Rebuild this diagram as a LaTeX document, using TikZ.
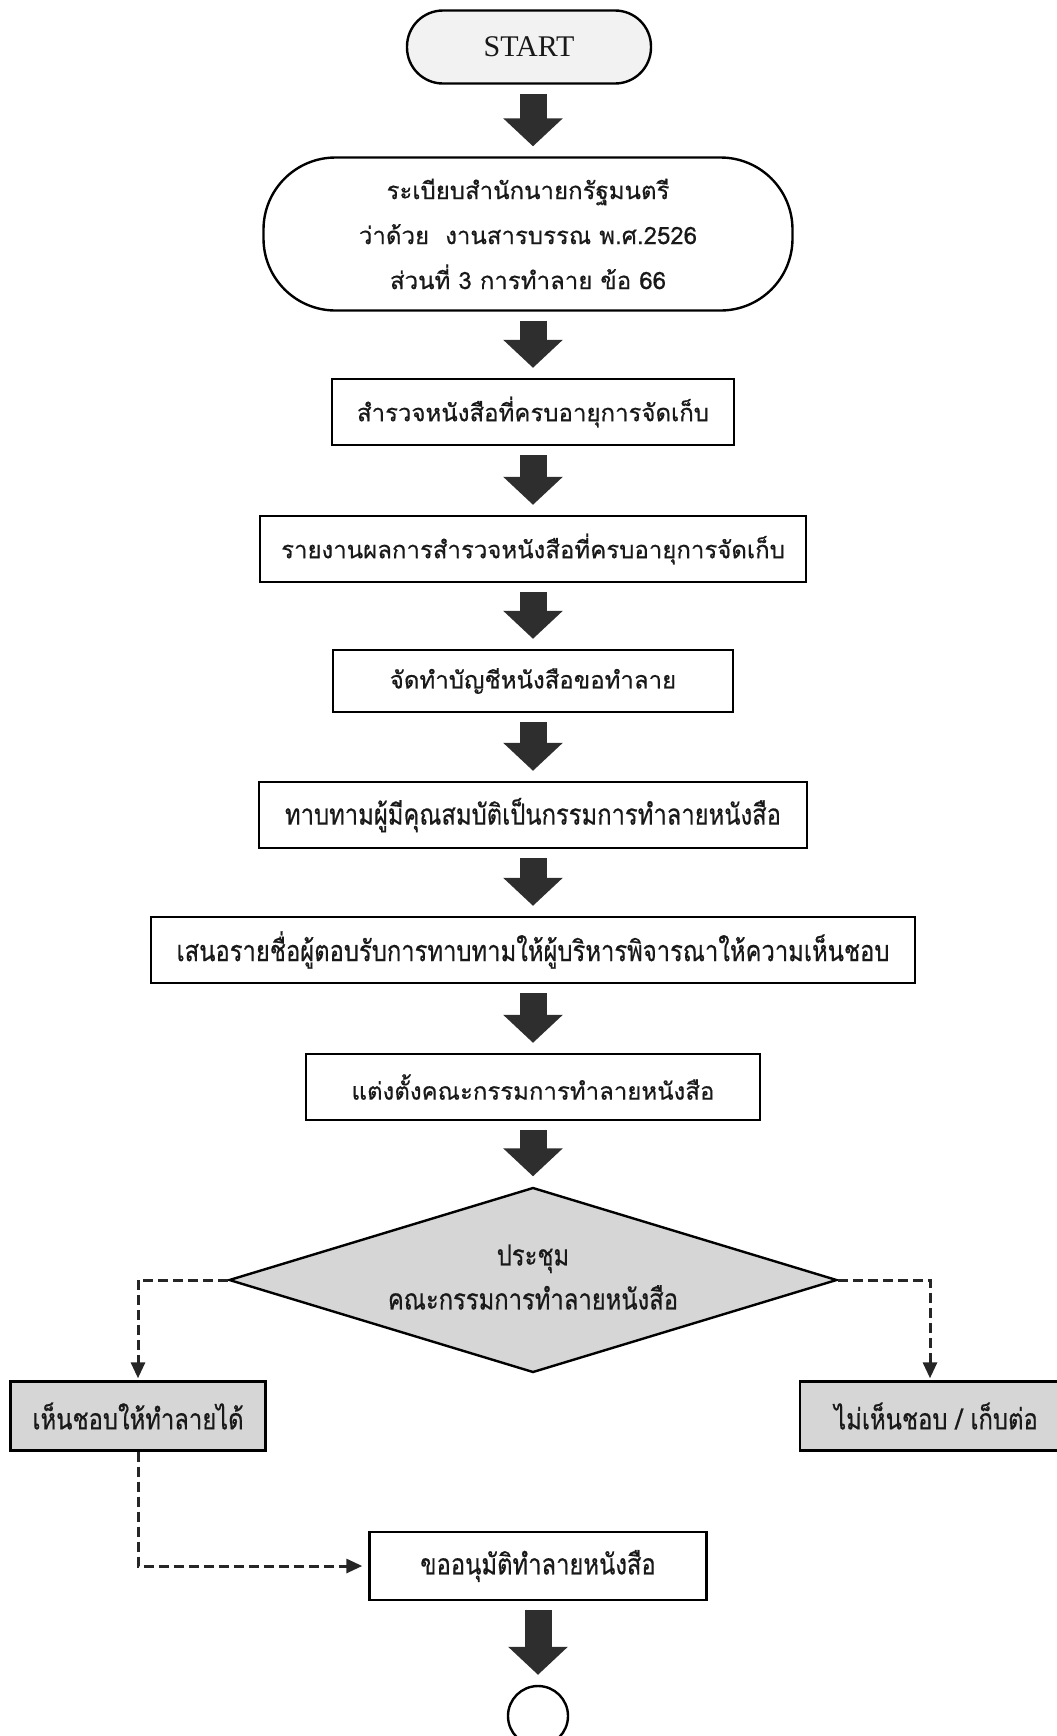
\documentclass[tikz,border=0pt]{standalone}
\usepackage{fontspec}
\setmainfont{Liberation Serif}
\newfontfamily\thaifont[Script=Thai,FakeBold=0.5]{Loma}
\newfontfamily\thainarrow[Script=Thai,FakeStretch=0.82,FakeBold=0.5]{Loma}
\usepackage{tikz}
\usetikzlibrary{arrows.meta,shapes.geometric}

\begin{document}
\begin{tikzpicture}[x=0.5pt,y=-0.5pt,line cap=butt]
  \tikzstyle{every node}=[inner sep=0pt,text=black!90]
  \tikzstyle{procbox}=[draw,line width=1.2pt,minimum height=33pt,font=\thaifont\fontsize{12}{14}\selectfont]
  \tikzstyle{narrowbox}=[procbox,font=\thainarrow\fontsize{14.5}{16}\selectfont]
  \tikzstyle{greybox}=[narrowbox,fill=gray!32,minimum height=34.5pt]
  \tikzstyle{bigarrow}=[draw=black!82,line width=13.5pt,-{Triangle[length=14pt,width=29pt]},shorten <=4.5pt,shorten >=5pt]
  \tikzstyle{dasharrow}=[draw=black!85,line width=1.5pt,dash pattern=on 5pt off 2.5pt,-{Triangle[length=8pt,width=7pt]}]

  \useasboundingbox (0,0) rectangle (1056,1736);

  \node[draw,line width=1.2pt,rounded corners=18pt,fill=gray!10,minimum width=122pt,minimum height=36.5pt,font=\fontsize{15}{17}\selectfont]
        (start) at (529,47) {START};
  \node[draw,line width=1.2pt,rounded corners=36pt,minimum width=264.5pt,minimum height=76.5pt,align=center,font=\thaifont\fontsize{12}{22.5}\selectfont]
        (rule) at (528,234) {ระเบียบสำนักนายกรัฐมนตรี\\ว่าด้วย\ \ งานสารบรรณ พ.ศ.2526\\ส่วนที่ 3 การทำลาย ข้อ 66};
  \node[procbox,minimum width=201pt] (survey) at (533,412) {สำรวจหนังสือที่ครบอายุการจัดเก็บ};
  \node[procbox,minimum width=273pt] (report) at (533,549) {รายงานผลการสำรวจหนังสือที่ครบอายุการจัดเก็บ};
  \node[procbox,minimum width=200pt,minimum height=31pt] (listing) at (533,681) {จัดทำบัญชีหนังสือขอทำลาย};
  \node[narrowbox,minimum width=274pt] (invite) at (533,815) {ทาบทามผู้มีคุณสมบัติเป็นกรรมการทำลายหนังสือ};
  \node[narrowbox,minimum width=382pt] (propose) at (533,950) {เสนอรายชื่อผู้ตอบรับการทาบทามให้ผู้บริหารพิจารณาให้ความเห็นชอบ};
  \node[procbox,minimum width=227pt] (appoint) at (533,1087) {แต่งตั้งคณะกรรมการทำลายหนังสือ};
  \node[diamond,aspect=3.3,draw,line width=1.2pt,fill=gray!32,minimum width=304pt,minimum height=92.5pt,align=center,font=\thainarrow\fontsize{14.5}{22}\selectfont]
        (meeting) at (533,1280) {\raisebox{3pt}{ประชุม}\\\raisebox{3pt}{คณะกรรมการทำลายหนังสือ}};
  \node[greybox,minimum width=127.5pt] (agree) at (138,1416) {เห็นชอบให้ทำลายได้};
  \node[greybox,minimum width=136pt] (keep) at (936,1416) {ไม่เห็นชอบ / เก็บต่อ};
  \node[narrowbox,minimum width=168.5pt,minimum height=34pt] (approve) at (538,1566) {ขออนุมัติทำลายหนังสือ};
  \node[circle,draw,line width=1.2pt,minimum size=30pt] (finish) at (538,1716) {};

  % main flow
  \path[bigarrow] (start.south -| survey.north) -- (rule.north -| survey.north);
  \path[bigarrow] (rule.south -| survey.north) -- (survey.north);
  \path[bigarrow] (survey.south) -- (report.north);
  \path[bigarrow] (report.south) -- (listing.north);
  \path[bigarrow] (listing.south) -- (invite.north);
  \path[bigarrow] (invite.south) -- (propose.north);
  \path[bigarrow] (propose.south) -- (appoint.north);
  \path[bigarrow] (appoint.south) -- (meeting.north);
  \path[bigarrow] (approve.south) -- (finish.north);

  % decision
  \path[dasharrow,shorten >=1pt] (meeting.west) -| (agree.north);
  \path[dasharrow,shorten >=1pt] (meeting.east) -| ([xshift=-3pt]keep.north);
  \path[dasharrow,shorten >=3pt] (agree.south) |- (approve.west);
\end{tikzpicture}
\end{document}
